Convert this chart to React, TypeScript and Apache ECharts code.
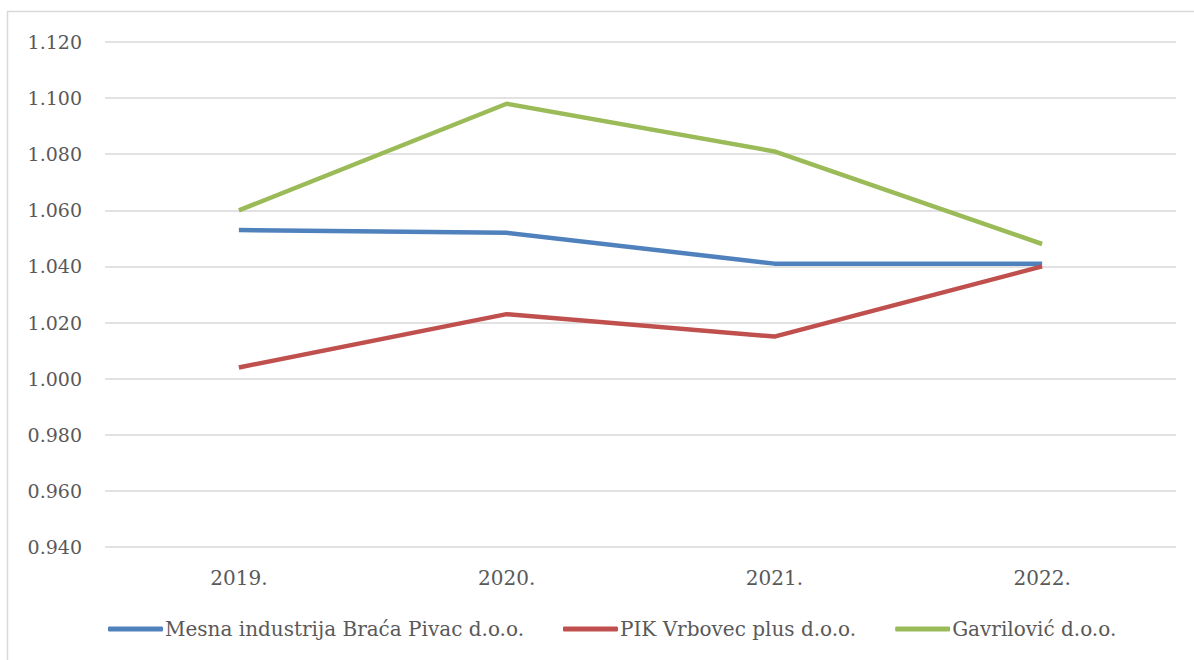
import React, { useEffect, useRef } from "react";
import * as echarts from "echarts";

const categories = ["2019.", "2020.", "2021.", "2022."];
const seriesNames = ["Mesna industrija Braća Pivac d.o.o.", "PIK Vrbovec plus d.o.o.", "Gavrilović d.o.o."];
const pivac = [1.053, 1.052, 1.041, 1.041];
const vrbovec = [1.004, 1.023, 1.015, 1.040];
const gavrilovic = [1.060, 1.098, 1.081, 1.048];
const colors = ["#4f81bd", "#c0504d", "#9bbb59"];

export default function App() {
  const ref = useRef<HTMLDivElement>(null);
  useEffect(() => {
    const chart = echarts.init(ref.current!, undefined, { renderer: "svg" });
    const font = "'DejaVu Serif', 'Liberation Serif', serif";
    const data = [pivac, vrbovec, gavrilovic];
    chart.setOption({
      animation: false,
      backgroundColor: "#ffffff",
      textStyle: { fontFamily: font },
      graphic: [
        {
          type: "rect",
          shape: { x: 7.5, y: 11.5, width: 1300, height: 800 },
          style: { fill: "none", stroke: "#d9d9d9", lineWidth: 1.5 },
          silent: true,
        },
      ],
      grid: { left: 105, right: 18, top: 42, bottom: 113, containLabel: false },
      xAxis: {
        type: "category",
        data: categories,
        boundaryGap: true,
        axisLine: { show: false },
        axisTick: { show: false },
        axisLabel: { color: "#595959", fontSize: 20, fontFamily: font, margin: 21 },
      },
      yAxis: {
        type: "value",
        min: 0.94,
        max: 1.12,
        interval: 0.02,
        axisLine: { show: false },
        axisTick: { show: false },
        splitLine: { lineStyle: { color: "#d9d9d9", width: 1.5 } },
        axisLabel: {
          color: "#595959",
          fontSize: 19,
          fontFamily: font,
          margin: 23,
          formatter: (v: number) => v.toFixed(3),
        },
      },
      legend: {
        bottom: 16,
        left: 103,
        itemWidth: 55,
        itemHeight: 5,
        itemGap: 39,
        icon: "roundRect",
        textStyle: { color: "#595959", fontSize: 20, fontFamily: font, padding: [0, 0, 0, -3] },
        data: seriesNames,
      },
      series: seriesNames.map((name, i) => ({
        name,
        type: "line",
        data: data[i],
        showSymbol: false,
        symbol: "none",
        color: colors[i],
        lineStyle: { color: colors[i], width: 4.5 },
      })),
    });
    return () => chart.dispose();
  }, []);
  return (
    <div
      ref={ref}
      style={{ position: "fixed", left: 0, top: 0, width: 1194, height: 660 }}
    />
  );
}
